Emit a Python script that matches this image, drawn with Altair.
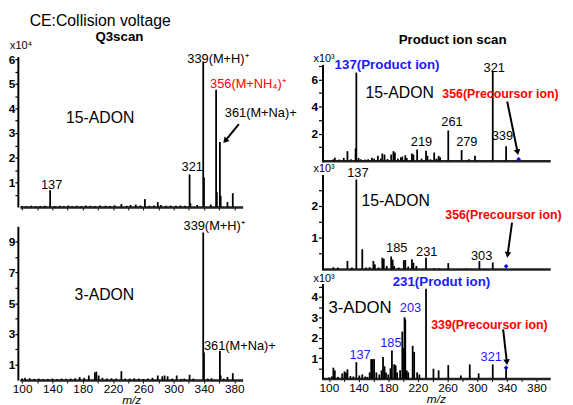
import altair as alt
import pandas as pd

# ---------------- data (m/z, intensity) ----------------
# Q3 scan, 15-ADON (x10^4)
LT_MZ = [100,105,112,118,124,130,137,143,150,155,161,166,172,178,184,190,196,203,210,216,222,
         231,238,243,250,256,262,268,274,279,283,290,296,303,309,315,321,322,331,339,340,349,
         356,357,361,362,371,378]
LT_INT = [0.04,0.03,0.05,0.03,0.04,0.05,0.68,0.04,0.05,0.03,0.06,0.04,0.05,0.04,0.06,0.05,0.04,
          0.06,0.05,0.04,0.07,0.12,0.05,0.08,0.10,0.06,0.32,0.05,0.06,0.20,0.08,0.05,0.06,0.05,
          0.06,0.05,1.32,0.15,0.08,5.88,1.20,0.10,4.76,0.60,2.64,0.45,0.20,0.56]
# Q3 scan, 3-ADON
LB_MZ = [100,104,110,116,122,128,134,140,146,152,158,164,170,176,182,188,196,198,201,206,212,
         218,224,231,236,242,248,254,260,266,272,279,285,288,292,298,304,310,314,321,326,339,
         340,345,350,361,362,366,371,378]
LB_INT = [0.10,0.15,0.12,0.08,0.10,0.07,0.08,0.10,0.08,0.10,0.09,0.10,0.12,0.20,0.15,0.30,0.50,
          0.55,0.30,0.15,0.10,0.12,0.10,0.58,0.10,0.10,0.12,0.10,0.08,0.10,0.15,0.30,0.25,0.30,
          0.25,0.10,0.30,0.08,0.10,0.35,0.10,9.60,1.80,0.10,0.12,1.90,0.30,0.10,0.20,0.45]
# Product ion scan, 15-ADON precursor 356 (x10^3)
RT_MZ = [106,108,114,120,125,130,136,137,140,143,149,153,158,161,166,170,172,175,179,184,187,
         189,193,197,199,203,205,212,214,219,225,231,233,237,242,245,248,250,261,279,289,297,
         321,339]
RT_INT = [0.10,0.22,0.08,0.20,0.70,0.10,0.90,6.50,0.20,0.10,0.08,0.10,0.22,0.15,0.36,0.15,0.53,
          0.45,0.12,0.45,0.70,0.60,0.15,0.25,0.30,0.40,0.20,0.53,0.45,0.82,0.15,0.73,0.35,0.10,
          0.60,0.15,0.35,0.25,2.23,0.78,0.10,0.36,6.55,1.07]
# Product ion scan, 15-ADON (second) (x10^3)
RM_MZ = [106,112,125,131,137,145,150,155,160,162,167,172,174,178,184,186,188,194,201,203,207,
         212,214,218,231,242,249,261,285,303,321]
RM_INT = [0.06,0.05,0.26,0.05,2.84,0.63,0.05,0.06,0.26,0.15,0.05,0.36,0.33,0.10,0.40,0.30,0.10,
          0.05,0.28,0.29,0.08,0.31,0.20,0.10,0.36,0.03,0.02,0.19,0.02,0.26,0.21]
# Product ion scan, 3-ADON precursor 339 (x10^3)
RB_MZ = [100,104,106,108,112,118,121,123,125,129,133,137,141,145,149,152,155,157,159,161,164,
         168,171,173,175,177,180,183,185,188,190,192,196,199,200,202,203,205,207,213,215,219,
         222,231,241,248,261,278,290,302,321,339]
RB_INT = [0.05,0.10,0.53,0.40,0.08,0.25,0.35,0.30,0.45,0.12,0.10,0.80,0.15,0.20,0.10,0.08,0.30,
          0.95,0.95,0.95,0.30,0.20,0.40,1.06,0.60,0.30,0.20,0.50,1.37,0.70,0.65,0.30,0.40,2.30,
          1.50,3.00,2.90,0.40,0.30,1.60,1.30,0.30,0.20,4.40,0.48,0.40,0.66,0.15,0.69,0.25,0.69,
          0.50]

# precursor markers (m/z, intensity)
RT_DOT = (356, 0.10)
RM_DOT = (339, 0.09)
RB_DOT = (339, 0.53)

X_TICKS = [100,120,140,160,180,200,220,240,260,280,300,320,340,360,380]
HALF_TICKS_6 = [0.5, 1, 1.5, 2, 2.5, 3, 3.5, 4, 4.5, 5, 5.5, 6]
TICKS_9 = [1, 2, 3, 4, 5, 6, 7, 8, 9]
TICKS_7 = [1, 2, 3, 4, 5, 6, 7]
HALF_TICKS_25 = [0.5, 1, 1.5, 2, 2.5]
HALF_TICKS_45 = [0.5, 1, 1.5, 2, 2.5, 3, 3.5, 4, 4.5]

# ---------------- layout ----------------
FONT = "Liberation Sans"
W, H = 565, 397
P = {
    "LT": dict(xd=[97, 391], xr=[12, 238], yd=[0, 6.1], yr=[199, 46.5]),
    "LB": dict(xd=[97, 391], xr=[12, 238], yd=[0, 10], yr=[374.6, 218.6]),
    "RT": dict(xd=[90, 398.5], xr=[318, 550], yd=[0, 7.1], yr=[152, 54.4]),
    "RM": dict(xd=[90, 398.5], xr=[318, 550], yd=[0, 3.0], yr=[262, 166]),
    "RB": dict(xd=[90, 398.5], xr=[318, 550], yd=[0, 4.65], yr=[373, 276.7]),
}

INT_ONLY = "abs(datum.value - round(datum.value)) < 0.01"
ODD_ONLY = "abs(datum.value - round(datum.value)) < 0.01 && round(datum.value) % 2 == 1"
EVEN_ONLY = "abs(datum.value - round(datum.value)) < 0.01 && round(datum.value) % 2 == 0"


def xs(p):
    return alt.Scale(domain=P[p]["xd"], range=P[p]["xr"], nice=False, zero=False)


def ys(p):
    return alt.Scale(domain=P[p]["yd"], range=P[p]["yr"], nice=False, zero=False)


def yaxis(values, cond, offset, tick=4, pad=1):
    return alt.Axis(values=values,
                    labelExpr="(%s) ? format(round(datum.value), 'd') : ''" % cond,
                    orient="left", offset=offset, domainWidth=2, domainColor="black",
                    tickColor="black", tickSize=tick, tickWidth=1.2, labelFont=FONT,
                    labelFontSize=12, labelFontWeight="bold", labelColor="black",
                    labelPadding=pad, labelOverlap=False, labelFlush=False,
                    title=None, grid=False)


def xaxis(offset, labels, ticks=True):
    kw = dict(orient="bottom", offset=offset, domainWidth=2.5, domainColor="#222",
              grid=False, values=X_TICKS, ticks=ticks, tickColor="black", tickSize=3)
    if labels:
        kw.update(labels=True, labelExpr="(datum.value - 100) % 40 == 0 ? datum.label : ''",
                  labelFont=FONT, labelFontSize=12, labelColor="black", labelPadding=1,
                  labelOverlap=False, labelFlush=False,
                  title="m/z", titleFont=FONT, titleFontStyle="italic", titleFontSize=12,
                  titleFontWeight="normal", titlePadding=0, titleColor="black")
    else:
        kw.update(labels=False, title=None)
    return alt.Axis(**kw)


def peaks(p, mz, inten, xa, ya):
    df = pd.DataFrame({"mz": mz, "i": inten, "b": [0] * len(mz)})
    return alt.Chart(df).mark_rule(color="black", strokeWidth=1.8).encode(
        x=alt.X("mz:Q", scale=xs(p), axis=xa),
        y=alt.Y("i:Q", scale=ys(p), axis=ya),
        y2="b:Q",
    )


def texts(p, items, color="black", size=13, weight="normal", align="center"):
    df = pd.DataFrame(items, columns=["t", "x", "y"])
    return alt.Chart(df).mark_text(color=color, fontSize=size, fontWeight=weight, align=align,
                                   baseline="middle", font=FONT).encode(
        x=alt.X("x:Q", scale=xs(p), axis=None),
        y=alt.Y("y:Q", scale=ys(p), axis=None),
        text="t:N",
    )


def arrow(p, x0, y0, x1, y1, angle):
    df = pd.DataFrame({"x": [x0], "y": [y0], "x2": [x1], "y2": [y1]})
    line = alt.Chart(df).mark_rule(color="black", strokeWidth=2).encode(
        x=alt.X("x:Q", scale=xs(p), axis=None), y=alt.Y("y:Q", scale=ys(p), axis=None),
        x2="x2:Q", y2="y2:Q")
    head = alt.Chart(df).mark_point(shape="triangle-up", filled=True, color="black", size=45,
                                    angle=angle, opacity=1).encode(
        x=alt.X("x2:Q", scale=xs(p), axis=None), y=alt.Y("y2:Q", scale=ys(p), axis=None))
    return [line, head]


def dot(p, pos):
    df = pd.DataFrame({"x": [pos[0]], "y": [pos[1]]})
    return alt.Chart(df).mark_point(shape="diamond", filled=True, color="#0000ff", size=22,
                                    opacity=1).encode(
        x=alt.X("x:Q", scale=xs(p), axis=None), y=alt.Y("y:Q", scale=ys(p), axis=None))


def free_text(text, x, y, size, weight="normal", align="left", style="normal"):
    return alt.Chart(alt.Data(values=[{}])).mark_text(
        text=text, fontSize=size, fontWeight=weight, align=align, baseline="middle",
        font=FONT, color="black", fontStyle=style).encode(x=alt.value(x), y=alt.value(y))


layers = []
BLUE_LBL = 13.5
RED_LBL = 12.5

# ----- Left top: Q3 scan 15-ADON -----
layers.append(peaks("LT", LT_MZ, LT_INT, xaxis(-198, False),
                    yaxis(HALF_TICKS_6, INT_ONLY, -10, tick=3, pad=0)))
layers.append(texts("LT", [("137", 139, 0.88), ("321", 324.5, 1.64)]))
layers.append(texts("LT", [("15-ADON", 203, 3.6)], size=16))
layers.append(texts("LT", [("339(M+H)\u207a", 318, 6.0), ("361(M+Na)+", 367.5, 3.8)], align="left"))
layers.append(texts("LT", [("356(M+NH\u2084)\u207a", 348, 5.0)], color="#ff0000", align="left"))
layers += arrow("LT", 386, 3.36, 368, 2.68, 221)

# ----- Left bottom: Q3 scan 3-ADON -----
layers.append(peaks("LB", LB_MZ, LB_INT, xaxis(-22.4, True),
                    yaxis(TICKS_9, ODD_ONLY, -10, tick=3, pad=0)))
layers.append(texts("LB", [("339(M+H)\u207a", 313, 10.0), ("361(M+Na)+", 340, 2.2)], align="left"))
layers.append(texts("LB", [("3-ADON", 208.6, 5.5)], size=16))

# ----- Right top: product ion scan 15-ADON -----
layers.append(peaks("RT", RT_MZ, RT_INT, xaxis(-245, False, ticks=False),
                    yaxis(TICKS_7, EVEN_ONLY, -319)))
layers.append(texts("RT", [("321", 323, 6.84), ("261", 266, 2.84), ("219", 224.8, 1.38),
                           ("279", 286, 1.38), ("339", 334, 1.82)]))
layers.append(texts("RT", [("15-ADON", 195.5, 5.0)], size=16))
layers.append(texts("RT", [("137(Product ion)", 107.7, 7.05)], color="#1a1aff", size=BLUE_LBL,
                    weight="bold", align="left"))
layers.append(texts("RT", [("356(Precoursor ion)", 253, 4.95)], color="#ff0000", size=RED_LBL,
                    weight="bold", align="left"))
layers += arrow("RT", 340.5, 4.36, 354.5, 0.62, 168)
layers.append(dot("RT", RT_DOT))

# ----- Right middle -----
layers.append(peaks("RM", RM_MZ, RM_INT, xaxis(-135, False, ticks=False),
                    yaxis(HALF_TICKS_25, INT_ONLY, -319)))
layers.append(texts("RM", [("137", 139, 3.03), ("185", 191.5, 0.66), ("231", 232, 0.53),
                           ("303", 306, 0.4)]))
layers.append(texts("RM", [("15-ADON", 190, 2.16)], size=16))
layers.append(texts("RM", [("356(Precoursor ion)", 257, 1.72)], color="#ff0000", size=RED_LBL,
                    weight="bold", align="left"))
layers += arrow("RM", 347, 1.47, 341, 0.45, 188)
layers.append(dot("RM", RM_DOT))

# ----- Right bottom: product ion scan 3-ADON -----
layers.append(peaks("RB", RB_MZ, RB_INT, xaxis(-24, True),
                    yaxis(HALF_TICKS_45, INT_ONLY, -319)))
layers.append(texts("RB", [("3-ADON", 142, 3.43)], size=17))
layers.append(texts("RB", [("203", 210, 3.43), ("185", 183.5, 1.74), ("137", 142, 1.16),
                           ("321", 319, 1.06)], color="#1a1aff"))
layers.append(texts("RB", [("231(Produt ion)", 186, 4.73)], color="#1a1aff", size=BLUE_LBL,
                    weight="bold", align="left"))
layers.append(texts("RB", [("339(Precoursor ion)", 238, 2.6)], color="#ff0000", size=RED_LBL,
                    weight="bold", align="left"))
layers += arrow("RB", 335, 2.41, 340, 0.8, 174)
layers.append(dot("RB", RB_DOT))

# ----- titles and multipliers -----
layers.append(free_text("CE:Collision voltage", 22, 10, 16))
layers.append(free_text("Q3scan", 113, 27, 13.5, weight="bold", align="center"))
layers.append(free_text("Product ion scan", 451, 30, 13.5, weight="bold", align="center"))
layers.append(free_text("x10\u2074", 2, 36, 11))
layers.append(free_text("x10\u00b3", 310, 49, 11))
layers.append(free_text("x10\u00b3", 310, 161, 11))
layers.append(free_text("x10\u00b3", 310, 272, 11))

chart = (
    alt.layer(*layers)
    .resolve_scale(x="independent", y="independent")
    .properties(width=W, height=H, autosize=alt.AutoSizeParams(type="none"), padding=0)
    .configure_view(stroke=None)
    .configure_axis(grid=False)
)

chart.save("out.html", embed_options={"renderer": "svg", "actions": False})
